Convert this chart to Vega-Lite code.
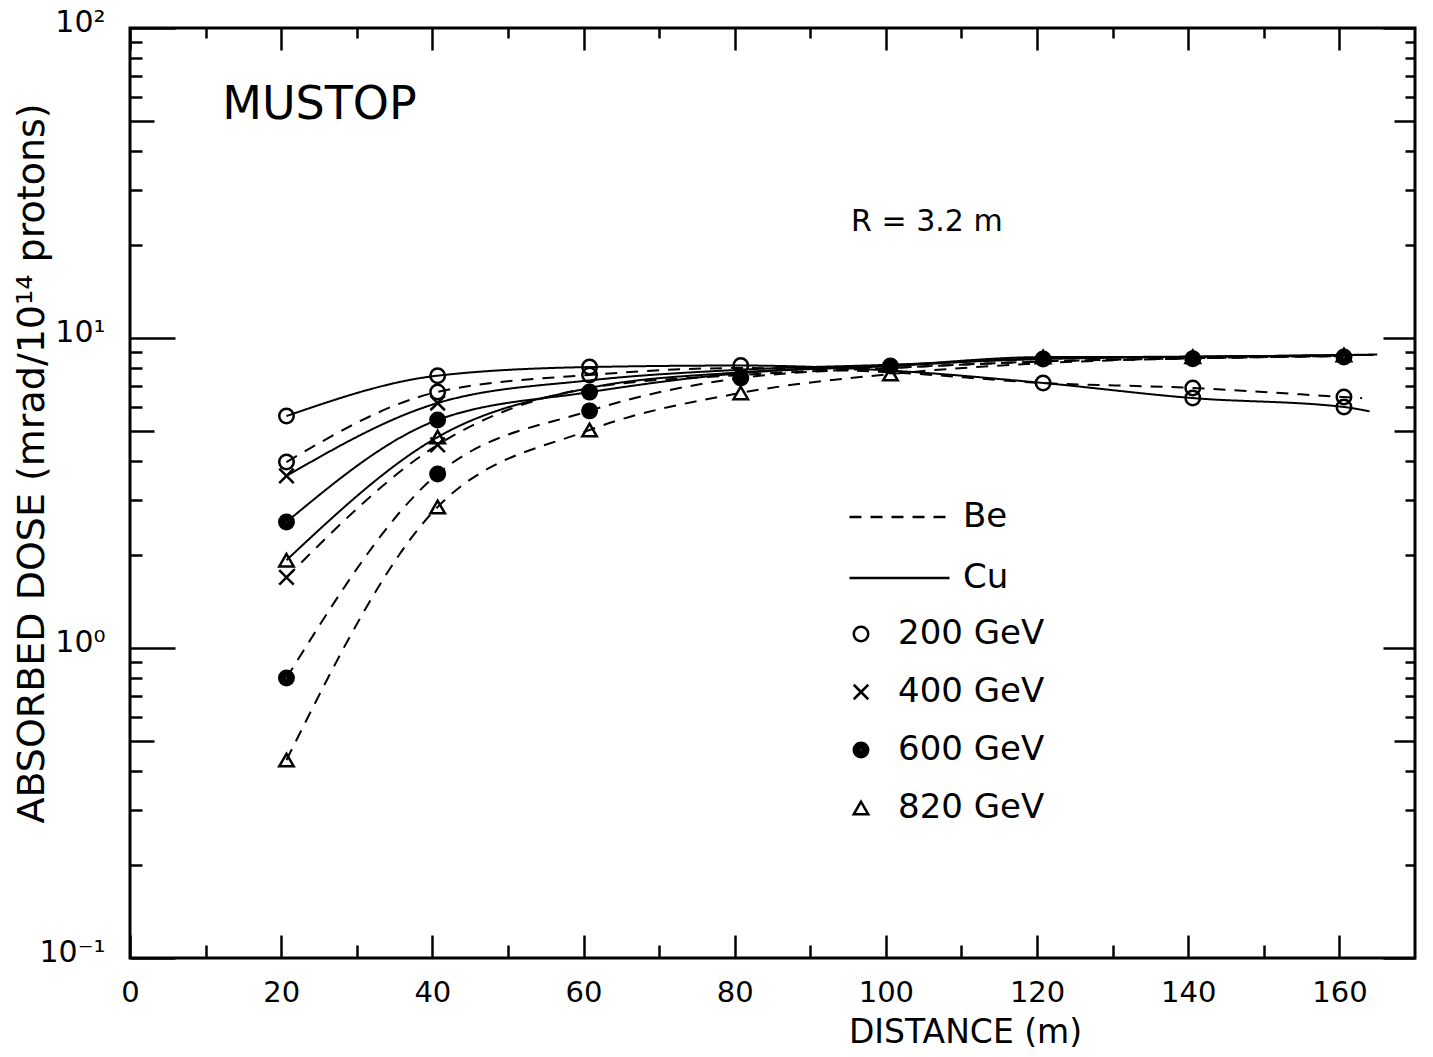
{
  "$schema": "https://vega.github.io/schema/vega-lite/v6.json",
  "width": 1285,
  "height": 930,
  "autosize": {"type": "none"},
  "padding": {"left": 130, "top": 28, "right": 18, "bottom": 99},
  "background": "white",
  "config": {
    "view": {"stroke": "black", "strokeWidth": 3},
    "font": "DejaVu Sans",
    "axis": {
      "grid": false,
      "domain": false,
      "tickColor": "black",
      "tickWidth": 2.5,
      "labelColor": "black",
      "titleColor": "black",
      "labelFont": "DejaVu Sans",
      "titleFont": "DejaVu Sans",
      "titleFontWeight": "normal",
      "labelFlush": false,
      "labelOverlap": false,
      "labelBound": false
    },
    "legend": {"labelFont": "DejaVu Sans", "labelColor": "black"}
  },
  "datasets": {
    "curves": [
      {"series": "200 Cu", "material": "Cu", "distance": 20.7, "dose": 5.6},
      {"series": "200 Cu", "material": "Cu", "distance": 40.7, "dose": 7.56},
      {"series": "200 Cu", "material": "Cu", "distance": 60.8, "dose": 8.06},
      {"series": "200 Cu", "material": "Cu", "distance": 80.8, "dose": 8.15},
      {"series": "200 Cu", "material": "Cu", "distance": 100.6, "dose": 7.85},
      {"series": "200 Cu", "material": "Cu", "distance": 120.8, "dose": 7.16},
      {"series": "200 Cu", "material": "Cu", "distance": 140.6, "dose": 6.4},
      {"series": "200 Cu", "material": "Cu", "distance": 160.6, "dose": 5.99},
      {"series": "200 Cu", "material": "Cu", "distance": 164, "dose": 5.8},
      {"series": "200 Be", "material": "Be", "distance": 20.7, "dose": 3.98},
      {"series": "200 Be", "material": "Be", "distance": 40.7, "dose": 6.7},
      {"series": "200 Be", "material": "Be", "distance": 60.8, "dose": 7.6},
      {"series": "200 Be", "material": "Be", "distance": 80.8, "dose": 8.0},
      {"series": "200 Be", "material": "Be", "distance": 100.6, "dose": 7.75},
      {"series": "200 Be", "material": "Be", "distance": 120.8, "dose": 7.16},
      {"series": "200 Be", "material": "Be", "distance": 140.6, "dose": 6.9},
      {"series": "200 Be", "material": "Be", "distance": 160.6, "dose": 6.45},
      {"series": "200 Be", "material": "Be", "distance": 163, "dose": 6.4},
      {"series": "400 Cu", "material": "Cu", "distance": 20.7, "dose": 3.59},
      {"series": "400 Cu", "material": "Cu", "distance": 40.7, "dose": 6.17},
      {"series": "400 Cu", "material": "Cu", "distance": 60.8, "dose": 7.3},
      {"series": "400 Cu", "material": "Cu", "distance": 80.8, "dose": 7.9},
      {"series": "400 Cu", "material": "Cu", "distance": 100.6, "dose": 8.2},
      {"series": "400 Cu", "material": "Cu", "distance": 120.8, "dose": 8.55},
      {"series": "400 Cu", "material": "Cu", "distance": 140.6, "dose": 8.7},
      {"series": "400 Cu", "material": "Cu", "distance": 160.6, "dose": 8.8},
      {"series": "400 Cu", "material": "Cu", "distance": 164.5, "dose": 8.82},
      {"series": "400 Be", "material": "Be", "distance": 20.7, "dose": 1.69},
      {"series": "400 Be", "material": "Be", "distance": 40.7, "dose": 4.52},
      {"series": "400 Be", "material": "Be", "distance": 60.8, "dose": 6.9},
      {"series": "400 Be", "material": "Be", "distance": 80.8, "dose": 7.6},
      {"series": "400 Be", "material": "Be", "distance": 100.6, "dose": 8.0},
      {"series": "400 Be", "material": "Be", "distance": 120.8, "dose": 8.4},
      {"series": "400 Be", "material": "Be", "distance": 140.6, "dose": 8.6},
      {"series": "400 Be", "material": "Be", "distance": 160.6, "dose": 8.75},
      {"series": "600 Cu", "material": "Cu", "distance": 20.7, "dose": 2.55},
      {"series": "600 Cu", "material": "Cu", "distance": 40.7, "dose": 5.44},
      {"series": "600 Cu", "material": "Cu", "distance": 60.8, "dose": 6.69},
      {"series": "600 Cu", "material": "Cu", "distance": 80.8, "dose": 7.7},
      {"series": "600 Cu", "material": "Cu", "distance": 100.6, "dose": 8.12},
      {"series": "600 Cu", "material": "Cu", "distance": 120.8, "dose": 8.6},
      {"series": "600 Cu", "material": "Cu", "distance": 140.6, "dose": 8.7},
      {"series": "600 Cu", "material": "Cu", "distance": 160.6, "dose": 8.8},
      {"series": "600 Cu", "material": "Cu", "distance": 164.5, "dose": 8.82},
      {"series": "600 Be", "material": "Be", "distance": 20.7, "dose": 0.8},
      {"series": "600 Be", "material": "Be", "distance": 40.7, "dose": 3.64},
      {"series": "600 Be", "material": "Be", "distance": 60.8, "dose": 5.82},
      {"series": "600 Be", "material": "Be", "distance": 80.8, "dose": 7.43},
      {"series": "600 Be", "material": "Be", "distance": 100.6, "dose": 8.0},
      {"series": "600 Be", "material": "Be", "distance": 120.8, "dose": 8.4},
      {"series": "600 Be", "material": "Be", "distance": 140.6, "dose": 8.6},
      {"series": "600 Be", "material": "Be", "distance": 160.6, "dose": 8.75},
      {"series": "820 Cu", "material": "Cu", "distance": 20.7, "dose": 1.92},
      {"series": "820 Cu", "material": "Cu", "distance": 40.7, "dose": 4.79},
      {"series": "820 Cu", "material": "Cu", "distance": 60.8, "dose": 6.9},
      {"series": "820 Cu", "material": "Cu", "distance": 80.8, "dose": 7.75},
      {"series": "820 Cu", "material": "Cu", "distance": 100.6, "dose": 8.15},
      {"series": "820 Cu", "material": "Cu", "distance": 120.8, "dose": 8.68},
      {"series": "820 Cu", "material": "Cu", "distance": 140.6, "dose": 8.7},
      {"series": "820 Cu", "material": "Cu", "distance": 160.6, "dose": 8.81},
      {"series": "820 Cu", "material": "Cu", "distance": 165, "dose": 8.85},
      {"series": "820 Be", "material": "Be", "distance": 20.7, "dose": 0.435},
      {"series": "820 Be", "material": "Be", "distance": 40.7, "dose": 2.85},
      {"series": "820 Be", "material": "Be", "distance": 60.8, "dose": 5.05},
      {"series": "820 Be", "material": "Be", "distance": 80.8, "dose": 6.65},
      {"series": "820 Be", "material": "Be", "distance": 100.6, "dose": 7.65},
      {"series": "820 Be", "material": "Be", "distance": 120.8, "dose": 8.3},
      {"series": "820 Be", "material": "Be", "distance": 140.6, "dose": 8.6},
      {"series": "820 Be", "material": "Be", "distance": 160.6, "dose": 8.75}
    ],
    "points": [
      {"energy": "200 GeV", "distance": 20.7, "dose": 5.6},
      {"energy": "200 GeV", "distance": 20.7, "dose": 3.98},
      {"energy": "400 GeV", "distance": 20.7, "dose": 3.59},
      {"energy": "600 GeV", "distance": 20.7, "dose": 2.55},
      {"energy": "820 GeV", "distance": 20.7, "dose": 1.92},
      {"energy": "400 GeV", "distance": 20.7, "dose": 1.69},
      {"energy": "600 GeV", "distance": 20.7, "dose": 0.8},
      {"energy": "820 GeV", "distance": 20.7, "dose": 0.435},
      {"energy": "200 GeV", "distance": 40.7, "dose": 7.56},
      {"energy": "200 GeV", "distance": 40.7, "dose": 6.7},
      {"energy": "400 GeV", "distance": 40.7, "dose": 6.17},
      {"energy": "600 GeV", "distance": 40.7, "dose": 5.44},
      {"energy": "820 GeV", "distance": 40.7, "dose": 4.79},
      {"energy": "400 GeV", "distance": 40.7, "dose": 4.52},
      {"energy": "600 GeV", "distance": 40.7, "dose": 3.64},
      {"energy": "820 GeV", "distance": 40.7, "dose": 2.85},
      {"energy": "200 GeV", "distance": 60.8, "dose": 8.06},
      {"energy": "200 GeV", "distance": 60.8, "dose": 7.6},
      {"energy": "600 GeV", "distance": 60.8, "dose": 6.69},
      {"energy": "600 GeV", "distance": 60.8, "dose": 5.82},
      {"energy": "820 GeV", "distance": 60.8, "dose": 5.05},
      {"energy": "200 GeV", "distance": 80.8, "dose": 8.15},
      {"energy": "600 GeV", "distance": 80.8, "dose": 7.43},
      {"energy": "820 GeV", "distance": 80.8, "dose": 6.65},
      {"energy": "600 GeV", "distance": 100.6, "dose": 8.12},
      {"energy": "820 GeV", "distance": 100.6, "dose": 7.65},
      {"energy": "820 GeV", "distance": 120.8, "dose": 8.68},
      {"energy": "600 GeV", "distance": 120.8, "dose": 8.55},
      {"energy": "200 GeV", "distance": 120.8, "dose": 7.16},
      {"energy": "820 GeV", "distance": 140.6, "dose": 8.7},
      {"energy": "600 GeV", "distance": 140.6, "dose": 8.57},
      {"energy": "200 GeV", "distance": 140.6, "dose": 6.9},
      {"energy": "200 GeV", "distance": 140.6, "dose": 6.4},
      {"energy": "820 GeV", "distance": 160.6, "dose": 8.81},
      {"energy": "600 GeV", "distance": 160.6, "dose": 8.68},
      {"energy": "200 GeV", "distance": 160.6, "dose": 6.45},
      {"energy": "200 GeV", "distance": 160.6, "dose": 5.99}
    ],
    "title": [{"label": "MUSTOP", "distance": 12.2, "dose": 56.4}],
    "note": [{"label": "R = 3.2 m", "distance": 95.4, "dose": 23.7}]
  },
  "layer": [
    {
      "data": {"name": "curves"},
      "mark": {"type": "line", "interpolate": "monotone", "color": "black", "strokeWidth": 2},
      "encoding": {
        "x": {
          "field": "distance", "type": "quantitative",
          "scale": {"domain": [0, 170], "nice": false, "zero": false},
          "axis": {
            "orient": "bottom",
            "values": [0, 10, 20, 30, 40, 50, 60, 70, 80, 90, 100, 110, 120, 130, 140, 150, 160],
            "labelExpr": "datum.value % 20 == 0 ? datum.label : ''",
            "tickSize": {"condition": {"test": "datum.value % 20 == 0", "value": -23}, "value": -13},
            "labelPadding": 43,
            "labelFontSize": 29,
            "title": "DISTANCE (m)",
            "titleFontSize": 33,
            "titleX": 835,
            "titleY": 74,
            "titleAlign": "center",
            "titleBaseline": "middle"
          }
        },
        "y": {
          "field": "dose", "type": "quantitative",
          "scale": {"type": "log", "domain": [0.1, 100], "nice": false},
          "axis": {
            "orient": "left",
            "values": [0.1, 0.2, 0.3, 0.4, 0.5, 0.6, 0.7, 0.8, 0.9, 1, 2, 3, 4, 5, 6, 7, 8, 9, 10, 20, 30, 40, 50, 60, 70, 80, 90, 100],
            "labelExpr": "datum.value == 0.1 ? '10⁻¹' : datum.value == 1 ? '10⁰' : datum.value == 10 ? '10¹' : datum.value == 100 ? '10²' : ''",
            "tickSize": {"condition": [
              {"test": "datum.value == 0.1 || datum.value == 1 || datum.value == 10 || datum.value == 100", "value": -45},
              {"test": "datum.value == 0.5 || datum.value == 5 || datum.value == 50", "value": -24}
            ], "value": -12},
            "labelPadding": 70,
            "labelFontSize": 30,
            "labelOffset": -6,
            "title": "ABSORBED DOSE (mrad/10¹⁴ protons)",
            "titleFontSize": 38,
            "titleX": -98,
            "titleY": 435,
            "titleAlign": "center",
            "titleBaseline": "middle"
          }
        },
        "detail": {"field": "series", "type": "nominal"},
        "strokeDash": {
          "field": "material", "type": "nominal",
          "scale": {"domain": ["Be", "Cu"], "range": [[12, 9], [1, 0]]},
          "legend": {
            "title": null, "orient": "none", "legendX": 718, "legendY": 474,
            "symbolType": "stroke", "symbolSize": 10000, "symbolStrokeWidth": 2.5,
            "symbolStrokeColor": "black", "labelFontSize": 34, "labelOffset": 12,
            "clipHeight": 30, "rowPadding": 27, "padding": 0
          }
        }
      }
    },
    {
      "data": {"name": "points"},
      "mark": {"type": "point", "filled": false, "color": "black", "strokeWidth": 2.5, "size": 210, "opacity": 1},
      "encoding": {
        "x": {
          "field": "distance", "type": "quantitative",
          "scale": {"domain": [0, 170], "nice": false, "zero": false},
          "axis": {
            "orient": "top",
            "values": [0, 10, 20, 30, 40, 50, 60, 70, 80, 90, 100, 110, 120, 130, 140, 150, 160],
            "labels": false,
            "title": null,
            "tickSize": {"condition": {"test": "datum.value % 20 == 0", "value": -22}, "value": -10}
          }
        },
        "y": {
          "field": "dose", "type": "quantitative",
          "scale": {"type": "log", "domain": [0.1, 100], "nice": false},
          "axis": {
            "orient": "right",
            "values": [0.1, 0.2, 0.3, 0.4, 0.5, 0.6, 0.7, 0.8, 0.9, 1, 2, 3, 4, 5, 6, 7, 8, 9, 10, 20, 30, 40, 50, 60, 70, 80, 90, 100],
            "labels": false,
            "title": null,
            "tickSize": {"condition": [
              {"test": "datum.value == 0.1 || datum.value == 1 || datum.value == 10 || datum.value == 100", "value": -32},
              {"test": "datum.value == 0.5 || datum.value == 5 || datum.value == 50", "value": -21}
            ], "value": -10}
          }
        },
        "shape": {
          "field": "energy", "type": "nominal",
          "scale": {"domain": ["200 GeV", "400 GeV", "600 GeV", "820 GeV"], "range": [
            "circle",
            "M-1,-1L1,1M-1,1L1,-1",
            "M1,0A1,1 0 1,1 -1,0A1,1 0 1,1 1,0ZM0.68,0A0.68,0.68 0 1,1 -0.68,0A0.68,0.68 0 1,1 0.68,0ZM0.38,0A0.38,0.38 0 1,1 -0.38,0A0.38,0.38 0 1,1 0.38,0ZM0.1,0A0.1,0.1 0 1,1 -0.1,0A0.1,0.1 0 1,1 0.1,0Z",
            "triangle-up"
          ]},
          "legend": {
            "title": null, "orient": "none", "legendX": 714, "legendY": 589,
            "symbolSize": 210, "symbolStrokeWidth": 2.5,
            "labelFontSize": 34, "labelOffset": 20, "rowPadding": 24, "padding": 0
          }
        }
      }
    },
    {
      "data": {"name": "title"},
      "mark": {"type": "text", "fontSize": 46, "align": "left", "baseline": "middle", "color": "black", "font": "DejaVu Sans"},
      "encoding": {
        "x": {"field": "distance", "type": "quantitative", "axis": null},
        "y": {"field": "dose", "type": "quantitative", "axis": null},
        "text": {"field": "label"}
      }
    },
    {
      "data": {"name": "note"},
      "mark": {"type": "text", "fontSize": 30, "align": "left", "baseline": "middle", "color": "black", "font": "DejaVu Sans"},
      "encoding": {
        "x": {"field": "distance", "type": "quantitative", "axis": null},
        "y": {"field": "dose", "type": "quantitative", "axis": null},
        "text": {"field": "label"}
      }
    }
  ],
  "resolve": {"axis": {"x": "independent", "y": "independent"}}
}
